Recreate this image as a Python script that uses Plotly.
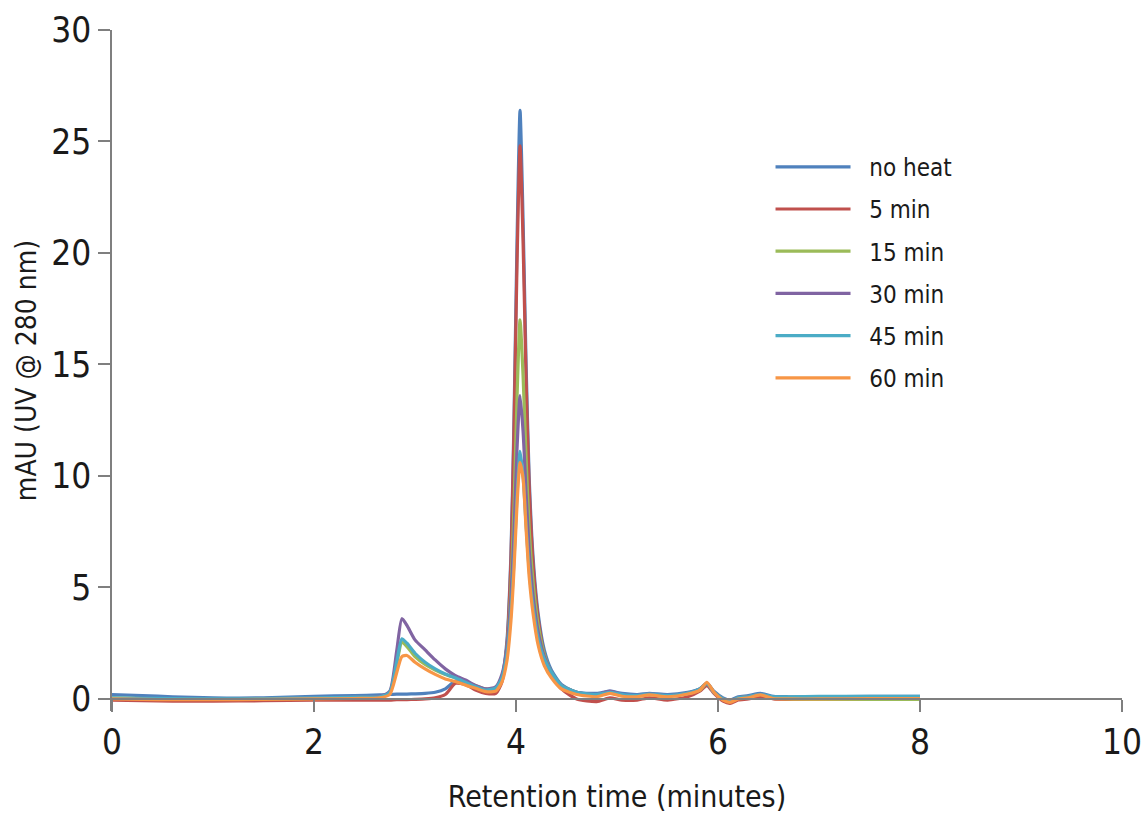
import plotly.graph_objects as go

# Retention time grid (minutes), shared by all chromatograms
time_min = [
    0.0, 0.3, 0.6, 1.0, 1.5, 2.0, 2.4, 2.65, 2.75, 2.82,
    2.87, 2.92, 3.0, 3.1, 3.2, 3.3, 3.4, 3.5, 3.6, 3.7,
    3.8, 3.86, 3.91, 3.95, 3.98, 4.01, 4.04, 4.07, 4.1, 4.13,
    4.17, 4.22, 4.28, 4.35, 4.45, 4.6, 4.8, 4.93, 5.05, 5.2,
    5.32, 5.5, 5.7, 5.82, 5.89, 5.96, 6.05, 6.12, 6.2, 6.3,
    6.42, 6.55, 6.7, 7.0, 7.5, 8.0,
]

# UV absorbance at 280 nm (mAU) for each heat-stress duration
no_heat = [
    0.2, 0.15, 0.1, 0.05, 0.05, 0.12, 0.15, 0.18, 0.2, 0.22,
    0.22, 0.22, 0.23, 0.25, 0.3, 0.45, 0.8, 0.75, 0.5, 0.35,
    0.4, 0.9, 2.6, 6.5, 12.5, 20.5, 26.4, 21.5, 15.0, 10.0,
    6.3, 3.8, 2.2, 1.3, 0.65, 0.3, 0.25, 0.35, 0.25, 0.2,
    0.25, 0.2, 0.3, 0.45, 0.7, 0.35, 0.05, -0.05, 0.1, 0.15,
    0.25, 0.12, 0.1, 0.1, 0.12, 0.12,
]
heat_5 = [
    -0.05, -0.08, -0.1, -0.1, -0.08, -0.05, -0.05, -0.05, -0.05, -0.03,
    -0.03, -0.03, -0.02, 0.0, 0.05, 0.2, 0.7, 0.65, 0.4, 0.25,
    0.25, 0.75, 2.4, 6.2, 12.0, 19.5, 24.8, 20.5, 14.3, 9.6,
    6.0, 3.6, 2.0, 1.1, 0.45, 0.0, -0.12, 0.05, -0.05, -0.05,
    0.05, -0.05, 0.1, 0.35, 0.6, 0.25, -0.1, -0.2, -0.05, 0.0,
    0.12, 0.0, -0.02, -0.02, -0.02, 0.0,
]
heat_15 = [
    0.05, 0.02, 0.0, -0.02, 0.0, 0.02, 0.05, 0.08, 0.3, 1.6,
    2.55, 2.35, 1.9, 1.55, 1.3, 1.1, 0.95, 0.8, 0.6, 0.45,
    0.5, 1.0, 2.3, 5.0, 8.6, 13.5, 17.0, 14.5, 10.8, 7.7,
    5.2, 3.3, 2.0, 1.2, 0.6, 0.3, 0.15, 0.3, 0.15, 0.12,
    0.2, 0.12, 0.25, 0.4, 0.7, 0.3, 0.0, -0.1, 0.05, 0.1,
    0.2, 0.05, 0.0, -0.02, -0.02, -0.02,
]
heat_30 = [
    0.02, 0.0, -0.02, -0.02, 0.0, 0.05, 0.08, 0.12, 0.35, 2.2,
    3.6, 3.3, 2.65, 2.2, 1.75, 1.35, 1.05, 0.85, 0.6, 0.45,
    0.55, 1.1, 2.3, 4.6, 7.4, 11.2, 13.6, 12.0, 9.2, 6.7,
    4.6, 3.0, 1.9, 1.2, 0.6, 0.3, 0.2, 0.35, 0.2, 0.15,
    0.22, 0.15, 0.25, 0.45, 0.7, 0.3, 0.0, -0.1, 0.05, 0.1,
    0.2, 0.05, 0.05, 0.05, 0.05, 0.05,
]
heat_45 = [
    0.05, 0.03, 0.02, 0.0, 0.02, 0.05, 0.08, 0.1, 0.3, 1.7,
    2.7, 2.5, 2.05, 1.65, 1.35, 1.12, 0.95, 0.75, 0.55, 0.4,
    0.5, 0.95, 2.0, 3.9, 6.2, 9.1, 11.1, 10.0, 7.8, 5.8,
    4.1, 2.7, 1.8, 1.2, 0.6, 0.3, 0.2, 0.3, 0.2, 0.15,
    0.22, 0.15, 0.25, 0.45, 0.7, 0.3, 0.0, -0.1, 0.05, 0.1,
    0.2, 0.1, 0.1, 0.12, 0.12, 0.12,
]
heat_60 = [
    0.0, -0.02, -0.03, -0.03, -0.02, 0.0, 0.02, 0.05, 0.2, 1.2,
    1.9, 1.95, 1.65, 1.35, 1.1, 0.9, 0.78, 0.62, 0.48, 0.33,
    0.35, 0.75, 1.7, 3.5, 5.8, 8.7, 10.6, 9.9, 7.6, 5.5,
    3.8, 2.4, 1.5, 0.95, 0.45, 0.2, 0.1, 0.25, 0.12, 0.1,
    0.18, 0.1, 0.22, 0.4, 0.75, 0.3, -0.05, -0.15, 0.0, 0.05,
    0.18, 0.02, 0.0, 0.0, 0.02, 0.02,
]

series_names = ["no heat", "5 min", "15 min", "30 min", "45 min", "60 min"]
series_values = [no_heat, heat_5, heat_15, heat_30, heat_45, heat_60]
series_colors = ["#4F81BD", "#C0504D", "#9BBB59", "#8064A2", "#4BACC6", "#F79646"]

x_ticks = [0, 2, 4, 6, 8, 10]
y_ticks = [0, 5, 10, 15, 20, 25, 30]

FONT = "Liberation Sans Narrow, DejaVu Sans Condensed, Roboto Condensed, Arial Narrow, Roboto, sans-serif"
AXIS_GREY = "#7f7f7f"

fig = go.Figure()
for i, (name, vals, col) in enumerate(zip(series_names, series_values, series_colors)):
    fig.add_trace(go.Scatter(
        x=time_min, y=vals, name="\u00a0\u00a0" + name, mode="lines",
        line=dict(color=col, width=3.2, shape="spline", smoothing=0.6),
        legendgroup=f"g{i}",
    ))

# y range extends a little below zero so the baselines are not clipped;
# the x axis is pinned at y = 0
y_lo = -0.54
fig.update_layout(
    width=1141, height=819,
    margin=dict(l=112, r=19, t=30, b=108, autoexpand=False),
    paper_bgcolor="white", plot_bgcolor="white",
    font=dict(family=FONT, color="#1a1a1a"),
    showlegend=True,
    legend=dict(
        x=0.652, y=0.8316, xanchor="left", yanchor="top",
        bgcolor="rgba(0,0,0,0)", font=dict(size=24, family=FONT),
        traceorder="grouped", tracegroupgap=8, itemwidth=75,
    ),
    xaxis=dict(
        range=[0, 10], tickvals=x_ticks, showgrid=False, zeroline=False,
        showline=True, linecolor=AXIS_GREY, linewidth=1.5,
        ticks="outside", ticklen=12, tickwidth=1.5, tickcolor=AXIS_GREY,
        tickfont=dict(size=35, family=FONT), ticklabeloverflow="allow",
        automargin=False,
        anchor="free", position=-y_lo / (30 - y_lo),
        title=dict(text="Retention time (minutes)", font=dict(size=30, family=FONT), standoff=24),
    ),
    yaxis=dict(
        range=[y_lo, 30], tickvals=y_ticks, showgrid=False, zeroline=False,
        showline=True, linecolor=AXIS_GREY, linewidth=1.5,
        ticks="outside", ticklen=12, tickwidth=1.5, tickcolor=AXIS_GREY,
        tickfont=dict(size=35, family=FONT), automargin=False,
        title=dict(text="mAU (UV @ 280 nm)", font=dict(size=28, family=FONT), standoff=6),
    ),
)

fig.write_html("out.html")
